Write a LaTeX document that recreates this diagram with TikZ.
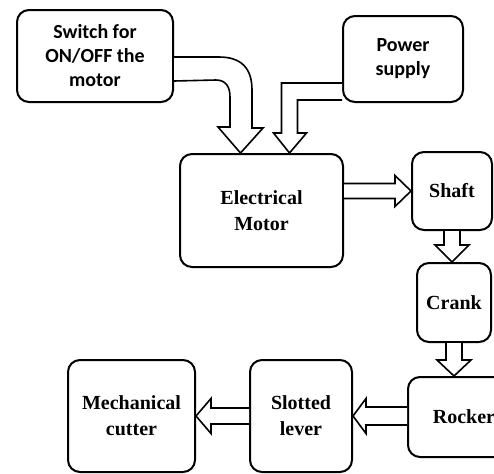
\documentclass[tikz,border=0pt]{standalone}
\usepackage{fontspec}
\setmainfont{Liberation Serif}
\newfontfamily\calibrifont{Carlito}
\usetikzlibrary{calc}

\begin{document}
\begin{tikzpicture}[x=0.5pt, y=-0.5pt,
    blockbox/.style={draw, line width=1pt, rounded corners=6pt, align=center,
        font=\fontsize{10}{13}\selectfont\bfseries, inner sep=0pt},
    sansbox/.style={blockbox, font=\calibrifont\fontsize{10}{12}\selectfont\bfseries},
    hollow/.style={draw, line width=0.8pt, fill=white, line join=miter}]
    \useasboundingbox (0,0) rectangle (494,473);
    \clip (0,0) rectangle (494,473);

    % Blocks
    \node[sansbox, minimum width=78pt, minimum height=46pt] (switch) at (95,56) {Switch for\\ON/OFF the\\motor};
    \node[sansbox, minimum width=60pt, minimum height=43pt] (power) at (403,59) {Power\\supply};
    \node[blockbox, minimum width=81.5pt, minimum height=56.5pt] (motor) at (261.5,210.5) {Electrical\\Motor};
    \node[blockbox, minimum width=40pt, minimum height=39pt] (shaft) at (452,191) {Shaft};
    \node[blockbox, minimum width=37pt, minimum height=39.5pt] (crank) at (454,302.5) {Crank};
    \node[blockbox, minimum width=56pt, minimum height=40pt] (rocker) at (464,417) {Rocker};
    \node[blockbox, minimum width=51pt, minimum height=56pt] (lever) at (301,416) {Slotted\\lever};
    \node[blockbox, minimum width=63.5pt, minimum height=56pt] (cutter) at (131.5,416) {Mechanical\\cutter};

    % Inputs to the motor
    \coordinate (tipA) at ($(motor.north)+(-21,0)$);
    \coordinate (tipB) at ($(motor.north)+(28,0)$);
    \draw[hollow] ($(switch.east)+(0,1)$) -- ++(45,0) .. controls +(22,0) and +(0,-22) .. ++(33,33)
        -- ++(0,38) -- ++(11,0) -- (tipA) -- ++(-22.5,-26) -- ++(12,0) -- ++(0,-30)
        .. controls +(0,-10) and +(10,0) .. ++(-14,-17) -- ($(switch.east)+(0,25)$);
    \draw[hollow] ($(power.west)+(0,24)$) -| ($(tipB)+(-8,-20)$) -- ++(-8,0) -- (tipB)
        -- ++(17,-20) -- ++(-9,0) |- ($(power.west)+(0,41)$);

    % Motor to shaft
    \draw[hollow] ($(motor.east |- shaft.west)+(0,-7.5)$) -- ($(shaft.west)+(-16,-7.5)$) -- ++(0,-8) -- (shaft.west)
        -- ($(shaft.west)+(-16,15.5)$) -- ++(0,-8) -- ($(motor.east |- shaft.west)+(0,7.5)$);

    % Shaft to crank to rocker
    \draw[hollow] ($(shaft.south)+(-8,0)$) -- ($(shaft.south |- crank.north)+(-8,-17)$) -- ++(-9,0) -- (shaft.south |- crank.north)
        -- ++(17,-17) -- ++(-9,0) -- ($(shaft.south)+(8,0)$);
    \draw[hollow] ($(crank.south)+(-8,0)$) -- ($(crank.south |- rocker.north)+(-8,-16)$) -- ++(-9,0) -- (crank.south |- rocker.north)
        -- ++(17,-16) -- ++(-9,0) -- ($(crank.south)+(8,0)$);

    % Rocker to slotted lever to cutter
    \draw[hollow] ($(rocker.west |- lever.east)+(0,-9)$) -- ($(lever.east)+(13,-9)$) -- ++(0,-8.5) -- (lever.east)
        -- ($(lever.east)+(13,17.5)$) -- ++(0,-8.5) -- ($(rocker.west |- lever.east)+(0,9)$);
    \draw[hollow] ($(lever.west)+(0,-8)$) -- ($(cutter.east)+(15,-8)$) -- ++(0,-9.5) -- (cutter.east)
        -- ($(cutter.east)+(15,17.5)$) -- ++(0,-9.5) -- ($(lever.west)+(0,8)$);
\end{tikzpicture}
\end{document}
